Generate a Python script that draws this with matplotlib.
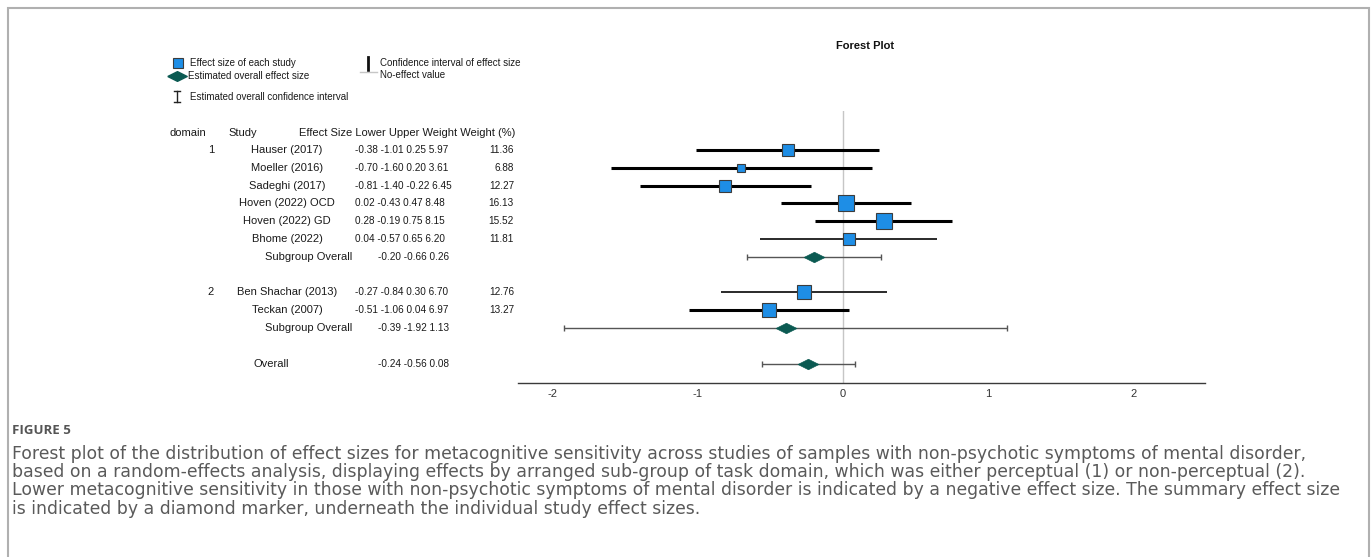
import matplotlib
matplotlib.use("Agg")
import matplotlib.pyplot as plt
from matplotlib.transforms import blended_transform_factory
from matplotlib.markers import MarkerStyle
from matplotlib.path import Path

# ---- data ----
studies = ["Hauser (2017)", "Moeller (2016)", "Sadeghi (2017)", "Hoven (2022) OCD",
           "Hoven (2022) GD", "Bhome (2022)", "Ben Shachar (2013)", "Teckan (2007)"]
domains = [1, 1, 1, 1, 1, 1, 2, 2]
effect = [-0.38, -0.70, -0.81, 0.02, 0.28, 0.04, -0.27, -0.51]
lower = [-1.01, -1.60, -1.40, -0.43, -0.19, -0.57, -0.84, -1.06]
upper = [0.25, 0.20, -0.22, 0.47, 0.75, 0.65, 0.30, 0.04]
weight = [5.97, 3.61, 6.45, 8.48, 8.15, 6.20, 6.70, 6.97]
weight_pct = [11.36, 6.88, 12.27, 16.13, 15.52, 11.81, 12.76, 13.27]

summary_labels = ["Subgroup Overall", "Subgroup Overall", "Overall"]
summary_effect = [-0.20, -0.39, -0.24]
summary_lower = [-0.66, -1.92, -0.56]
summary_upper = [0.26, 1.13, 0.08]

x_ticks = [-2, -1, 0, 1, 2]

caption_lines = [
    "Forest plot of the distribution of effect sizes for metacognitive sensitivity across studies of samples with non-psychotic symptoms of mental disorder,",
    "based on a random-effects analysis, displaying effects by arranged sub-group of task domain, which was either perceptual (1) or non-perceptual (2).",
    "Lower metacognitive sensitivity in those with non-psychotic symptoms of mental disorder is indicated by a negative effect size. The summary effect size",
    "is indicated by a diamond marker, underneath the individual study effect sizes.",
]

# ---- layout ----
W, H = 1372, 557
study_rows = [0, 1, 2, 3, 4, 5, 8, 9]
summary_rows = [6, 10, 12]
row0_px, row_step = 150, 17.8
thin_rows = {5, 6}  # Bhome, Ben Shachar have lighter CI lines
caption_right_px = [1333, 1316, 1327, 676]  # where each caption line ends in the original

BLUE = "#1e8ee6"
TEAL = "#0b5a52"
FS = 8
NFS = 7.2  # the numeric columns are set tighter in the original

plt.rcParams["font.family"] = ["Liberation Sans", "DejaVu Sans"]


def fx(px):
    return px / W


def fy(py):
    return 1 - py / H


def to_row(py):
    return (py - row0_px) / row_step


fig = plt.figure(figsize=(W / 100, H / 100), dpi=100)
fig.patch.set_facecolor("white")

ax_left, ax_right, ax_top, ax_bot = 518, 1205, 111, 383
ax = fig.add_axes([fx(ax_left), fy(ax_bot), fx(ax_right - ax_left), (ax_bot - ax_top) / H])
ax.set_xlim((ax_left - 843) / 145.3, (ax_right - 843) / 145.3)
ax.set_ylim(to_row(ax_bot), to_row(ax_top))
for s in ["top", "right", "left"]:
    ax.spines[s].set_visible(False)
ax.spines["bottom"].set_color("#3a3a3a")
ax.spines["bottom"].set_linewidth(1.0)
ax.set_yticks([])
ax.set_xticks(x_ticks)
ax.set_xticklabels([str(t) for t in x_ticks])
ax.tick_params(axis="x", length=0, pad=4, labelsize=FS, labelcolor="#333333")
ax.patch.set_visible(False)

ax.axvline(0, color="#c6c6c6", lw=1.0, zorder=1)

# study CIs and squares
for i, r in enumerate(study_rows):
    thin = i in thin_rows
    ax.plot([lower[i], upper[i]], [r, r], color="#2a2a2a" if thin else "#000000",
            lw=1.4 if thin else 2.2, solid_capstyle="butt", zorder=2)
    side = weight_pct[i] * 1.05 * 0.72
    ax.plot(effect[i], r, marker="s", ms=side, mfc=BLUE, mec="#3c3c3c", mew=0.8, zorder=3)

# diamond marker: twice as wide as tall
diamond = MarkerStyle(Path([(-1, 0), (0, 0.5), (1, 0), (0, -0.5), (-1, 0)]))
for k, r in enumerate(summary_rows):
    ax.errorbar(summary_effect[k], r,
                xerr=[[summary_effect[k] - summary_lower[k]], [summary_upper[k] - summary_effect[k]]],
                fmt="none", ecolor="#555555", elinewidth=1.0, capsize=2.5, capthick=1.0, zorder=2)
    ax.plot(summary_effect[k], r, marker=diamond, ms=15, mfc=TEAL, mec=TEAL, mew=0.5, zorder=3)

# ---- table on the left ----
tr = blended_transform_factory(fig.transFigure, ax.transData)


def txt(px, row, s, ha="left", size=FS):
    ax.text(fx(px), row, s, transform=tr, ha=ha, va="center", fontsize=size,
            color="#1a1a1a", clip_on=False)


hdr = to_row(133)
txt(170, hdr, "domain")
txt(228, hdr, "Study")
txt(299, hdr, "Effect Size Lower Upper Weight Weight (%)")

shown_domain = set()
for i, r in enumerate(study_rows):
    if domains[i] not in shown_domain:
        txt(211, r, str(domains[i]), ha="center")
        shown_domain.add(domains[i])
    txt(287, r, studies[i], ha="center")
    txt(355, r, f"{effect[i]:.2f} {lower[i]:.2f} {upper[i]:.2f} {weight[i]:.2f}", size=NFS)
    txt(514, r, f"{weight_pct[i]:.2f}", ha="right", size=NFS)

for k, r in enumerate(summary_rows):
    if summary_labels[k] == "Overall":
        txt(253, r, summary_labels[k])
    else:
        txt(309, r, summary_labels[k], ha="center")
    txt(378, r, f"{summary_effect[k]:.2f} {summary_lower[k]:.2f} {summary_upper[k]:.2f}", size=NFS)

# ---- overlay for legend, title, frame ----
ov = fig.add_axes([0, 0, 1, 1], zorder=-1)
ov.set_xlim(0, W)
ov.set_ylim(H, 0)
ov.axis("off")

ov.plot([8, 8, 1369, 1369], [H + 5, 8, 8, H + 5], color="#b0b0b0", lw=1.5,
        solid_joinstyle="miter", clip_on=False)

fig.text(fx(865), fy(46), "Forest Plot", ha="center", va="center",
         fontsize=8, fontweight="bold", color="#111111")

# legend
LFS = 7
ov.plot(178, 63, marker="s", ms=7, mfc=BLUE, mec="#3c3c3c", mew=0.8)
ov.text(190, 63, "Effect size of each study", fontsize=LFS, va="center", color="#1a1a1a")
ov.plot(177, 76, marker=diamond, ms=14, mfc=TEAL, mec=TEAL)
ov.text(188, 76, "Estimated overall effect size", fontsize=LFS, va="center", color="#1a1a1a")
ov.plot([177, 177], [91, 102], color="#222222", lw=1.0)
ov.plot([174, 180], [91, 91], color="#222222", lw=1.0)
ov.plot([174, 180], [102, 102], color="#222222", lw=1.0)
ov.text(190, 97, "Estimated overall confidence interval", fontsize=LFS, va="center", color="#1a1a1a")
ov.plot([368, 368], [57, 70], color="#111111", lw=2.0)
ov.text(380, 63, "Confidence interval of effect size", fontsize=LFS, va="center", color="#1a1a1a")
ov.plot([360, 377], [72, 72], color="#c6c6c6", lw=1.0)
ov.text(380, 75, "No-effect value", fontsize=LFS, va="center", color="#1a1a1a")

# ---- caption ----
fig.text(fx(12), fy(430), "FIGURE 5", ha="left", va="center", fontsize=9.5,
         fontweight="bold", color="#555555", family=["Open Sans", "DejaVu Sans"])
cap_texts = []
for j, line in enumerate(caption_lines):
    cap_texts.append(fig.text(fx(12), fy(454 + 18.2 * j), line, ha="left", va="center",
                              fontsize=11, color="#5a5a5a", family=["DejaVu Sans"]))

# one font size for all caption lines, fitted to the original line lengths
renderer = fig.canvas.get_renderer()
widths = [t.get_window_extent(renderer).width for t in cap_texts]
scale = sum(r - 12 for r in caption_right_px) / sum(widths)
for t in cap_texts:
    t.set_fontsize(11 * scale)

fig.savefig("out.png", dpi=100)
